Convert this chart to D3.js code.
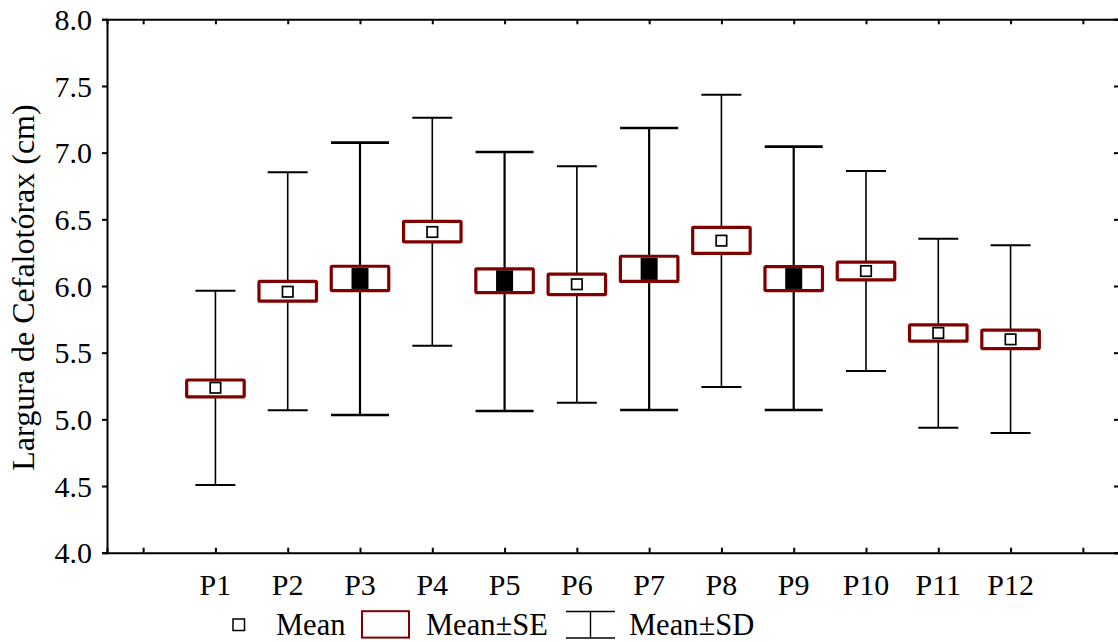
<!DOCTYPE html>
<html>
<head>
<meta charset="utf-8">
<script src="https://cdn.jsdelivr.net/npm/d3@7"></script>
<style>
  html, body { margin: 0; padding: 0; background: #fff; }
  svg { display: block; }
  text { font-family: "Liberation Serif", "Times New Roman", serif; fill: #000; }
</style>
</head>
<body>
<svg id="chart" width="1118" height="642"></svg>
<script>
// ---- data ----
const categories = ["P1","P2","P3","P4","P5","P6","P7","P8","P9","P10","P11","P12"];
const means  = [5.237, 5.957, 6.057, 6.405, 6.040, 6.013, 6.128, 6.340, 6.056, 6.112, 5.648, 5.600];
const seLow  = [5.169, 5.886, 5.966, 6.331, 5.951, 5.936, 6.034, 6.244, 5.966, 6.046, 5.586, 5.531];
const seHigh = [5.295, 6.034, 6.148, 6.484, 6.129, 6.089, 6.223, 6.439, 6.146, 6.179, 5.709, 5.669];
const sdLow  = [4.508, 5.068, 5.033, 5.552, 5.063, 5.125, 5.070, 5.243, 5.070, 5.363, 4.937, 4.898];
const sdHigh = [5.965, 6.853, 7.075, 7.262, 7.005, 6.898, 7.185, 7.435, 7.045, 6.862, 6.355, 6.305];
const yTicks = [4.0, 4.5, 5.0, 5.5, 6.0, 6.5, 7.0, 7.5, 8.0];
const filledMarkers = ["P3","P5","P7","P9"];
const legendLabels = ["Mean", "Mean\u00B1SE", "Mean\u00B1SD"];
const yTitle = "Largura de Cefalotórax (cm)";

// ---- layout ----
const pL = 107, pR = 1119, pT = 19.3, pB = 552.7;
const FS = 30;
const red = "#800000";

const svg = d3.select("#chart");
const x = d3.scaleLinear().domain([0.5, 14.5]).range([pL, pR]);
const y = d3.scaleLinear().domain([4, 8]).range([pB, pT]);
const slots = d3.range(1, 15);
const posOf = i => x(i + 2);

const gx = svg.append("g").attr("transform", `translate(0,${pB})`)
  .call(d3.axisBottom(x).tickValues(slots).tickSize(-5).tickFormat(""));
const gxt = svg.append("g").attr("transform", `translate(0,${pT})`)
  .call(d3.axisTop(x).tickValues(slots).tickSize(-5).tickFormat(""));
const gy = svg.append("g").attr("transform", `translate(${pL},0)`)
  .call(d3.axisLeft(y).tickValues(yTicks).tickSize(5).tickPadding(10).tickFormat(d3.format(".1f")));
const gyr = svg.append("g").attr("transform", `translate(${pR},0)`)
  .call(d3.axisRight(y).tickValues(yTicks).tickSize(-5).tickFormat(""));
[gx, gxt, gy, gyr].forEach(g => {
  g.attr("font-family", null);
  g.select(".domain").attr("stroke", "#000").attr("stroke-width", 2);
  g.selectAll(".tick line").attr("stroke", "#000").attr("stroke-width", 2);
});
gy.selectAll(".tick text").attr("font-size", FS).attr("font-family", "Liberation Serif").attr("dy", "0.34em");

svg.append("g").selectAll("text").data(categories).join("text")
  .attr("x", (d, i) => posOf(i)).attr("y", 595)
  .attr("text-anchor", "middle").attr("font-size", FS).text(d => d);

svg.append("text")
  .attr("transform", `translate(33.5,${(108 + 467) / 2}) rotate(-90)`)
  .attr("text-anchor", "middle").attr("font-size", 32).text(yTitle);

const g = svg.append("g");
categories.forEach((c, i) => {
  const cx = posOf(i);
  const bold = filledMarkers.includes(c);
  const capW = bold ? 58 : 40;
  const lw = bold ? 2.2 : 1.6;
  g.append("line").attr("x1", cx).attr("x2", cx).attr("y1", y(sdHigh[i])).attr("y2", y(sdLow[i]))
    .attr("stroke", "#000").attr("stroke-width", lw);
  [sdHigh[i], sdLow[i]].forEach(v => {
    g.append("line").attr("x1", cx - capW / 2).attr("x2", cx + capW / 2).attr("y1", y(v)).attr("y2", y(v))
      .attr("stroke", "#000").attr("stroke-width", bold ? 2.6 : 2);
  });
  const bw = 57.5;
  const y1 = y(seHigh[i]), y2 = y(seLow[i]);
  g.append("rect").attr("x", cx - bw / 2).attr("y", y1).attr("width", bw).attr("height", y2 - y1)
    .attr("fill", "#fff").attr("stroke", red).attr("stroke-width", 3.2).attr("rx", 1);
  if (bold) {
    g.append("rect").attr("x", cx - 8.5).attr("y", y1 + 1.6).attr("width", 17).attr("height", y2 - y1 - 3.2)
      .attr("fill", "#000");
  } else {
    const m = 10.5;
    g.append("rect").attr("x", cx - m / 2).attr("y", y(means[i]) - m / 2).attr("width", m).attr("height", m)
      .attr("fill", "#fff").attr("stroke", "#000").attr("stroke-width", 1.7);
  }
});

const LFS = 30.5;
const LY = 635;
const lg = svg.append("g");
lg.append("rect").attr("x", 233).attr("y", 619).attr("width", 11.5).attr("height", 11.5)
  .attr("fill", "#fff").attr("stroke", "#000").attr("stroke-width", 1.5);
lg.append("text").attr("x", 276).attr("y", LY).attr("font-size", LFS).text(legendLabels[0]);
lg.append("rect").attr("x", 362).attr("y", 611.2).attr("width", 47).attr("height", 26.4)
  .attr("fill", "#fff").attr("stroke", red).attr("stroke-width", 2);
lg.append("text").attr("x", 426).attr("y", LY).attr("font-size", LFS).text(legendLabels[1]);
lg.append("line").attr("x1", 566).attr("x2", 615).attr("y1", 611.5).attr("y2", 611.5).attr("stroke", "#000").attr("stroke-width", 1.6);
lg.append("line").attr("x1", 566).attr("x2", 615).attr("y1", 638).attr("y2", 638).attr("stroke", "#000").attr("stroke-width", 1.6);
lg.append("line").attr("x1", 590.5).attr("x2", 590.5).attr("y1", 611.5).attr("y2", 638).attr("stroke", "#000").attr("stroke-width", 1.4);
lg.append("text").attr("x", 629).attr("y", LY).attr("font-size", LFS).text(legendLabels[2]);
</script>
</body>
</html>
